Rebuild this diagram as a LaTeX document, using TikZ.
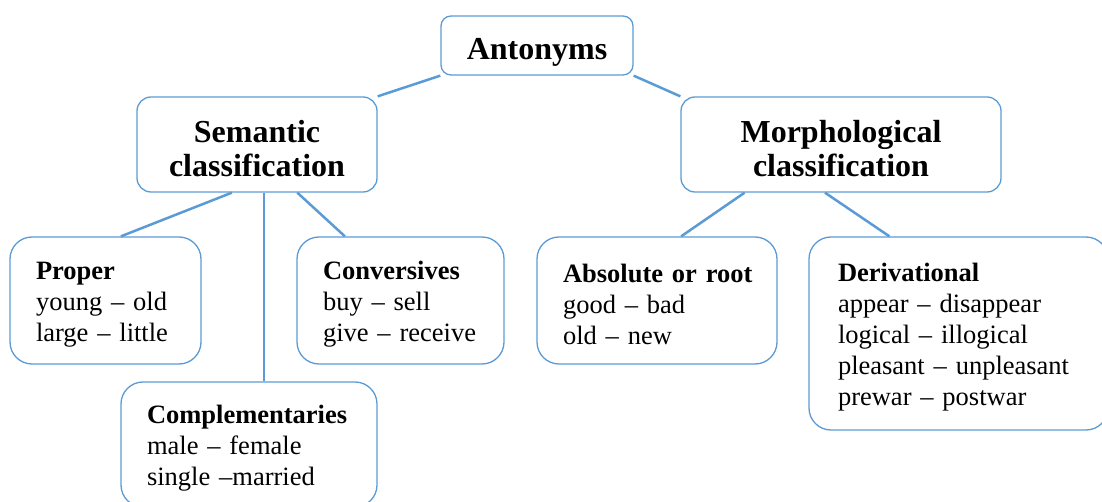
\documentclass[tikz,border=0pt]{standalone}
\usepackage{fontspec}
\setmainfont{Liberation Serif}
\usepackage{tikz}
\usetikzlibrary{calc}
\definecolor{kante}{HTML}{5B9BD5}

\begin{document}
\begin{tikzpicture}[x=1pt, y=-1pt,
    kopf/.style={draw=kante, line width=1.3pt, rounded corners=14pt, align=center, inner sep=0pt,
        execute at begin node={\rule{0pt}{30pt}}, font=\fontsize{32}{34}\selectfont\bfseries},
    kasten/.style={draw=kante, line width=1.3pt, rounded corners=22pt, align=left, inner xsep=26pt, inner ysep=0pt,
        execute at begin node={\rule{0pt}{26pt}}, font=\fontsize{26.5}{31}\selectfont},
    linie/.style={draw=kante, line width=2.5pt}]
    \useasboundingbox (0,0) rectangle (1102,502);
    \clip (0,0) rectangle (1102,502);

    % Obere Ebene.
    \node[kopf, rounded corners=10pt, text width=192pt, minimum height=59pt] (ant) at (537,45.5) {\rule{0pt}{34pt}Antonyms};
    \node[kopf, text width=240pt, minimum height=95pt] (sem) at (257,144.5) {Semantic\\classification};
    \node[kopf, text width=320pt, minimum height=95pt] (morph) at (841,144.5) {Morphological\\classification};

    % Untere Ebene.
    \node[kasten, text width=139pt, minimum height=127pt] (proper) at (105.5,300.5)
        {\textbf{Proper}\\young – old\\large – little};
    \node[kasten, text width=155pt, minimum height=127pt] (conv) at (400.5,300.5)
        {\textbf{Conversives}\\buy – sell\\give – receive};
    \node[kasten, text width=204pt, minimum height=125pt] (compl) at (249,444.5)
        {\textbf{Complementaries}\\male – female\\single –married};
    \node[kasten, inner xsep=22pt, text width=196pt, minimum height=127pt] (absol) at (657,300.5)
        {\hspace*{4pt}\textbf{Absolute or root}\\\hspace*{4pt}good – bad\\\hspace*{4pt}old – new};
    \node[kasten, inner xsep=29pt, text width=241pt, minimum height=193pt] (deriv) at (958.5,333.5)
        {\textbf{Derivational}\\appear – disappear\\logical – illogical\\pleasant – unpleasant\\prewar – postwar};

    % Verbindungen.
    \draw[linie] (ant.south west) -- (sem.north east);
    \draw[linie] (ant.south east) -- (morph.north west);
    \draw[linie] ($(sem.south west)!0.396!(sem.south east)$) -- ($(proper.north west)!0.58!(proper.north east)$);
    \coordinate (mitte) at ($(sem.south west)!0.53!(sem.south east)$);
    \draw[linie] (mitte) -- (mitte |- compl.north);
    \draw[linie] ($(sem.south west)!0.667!(sem.south east)$) -- ($(conv.north west)!0.233!(conv.north east)$);
    \draw[linie] ($(morph.south west)!0.2!(morph.south east)$) -- ($(absol.north west)!0.6!(absol.north east)$);
    \draw[linie] ($(morph.south west)!0.45!(morph.south east)$) -- ($(deriv.north west)!0.27!(deriv.north east)$);
\end{tikzpicture}
\end{document}
